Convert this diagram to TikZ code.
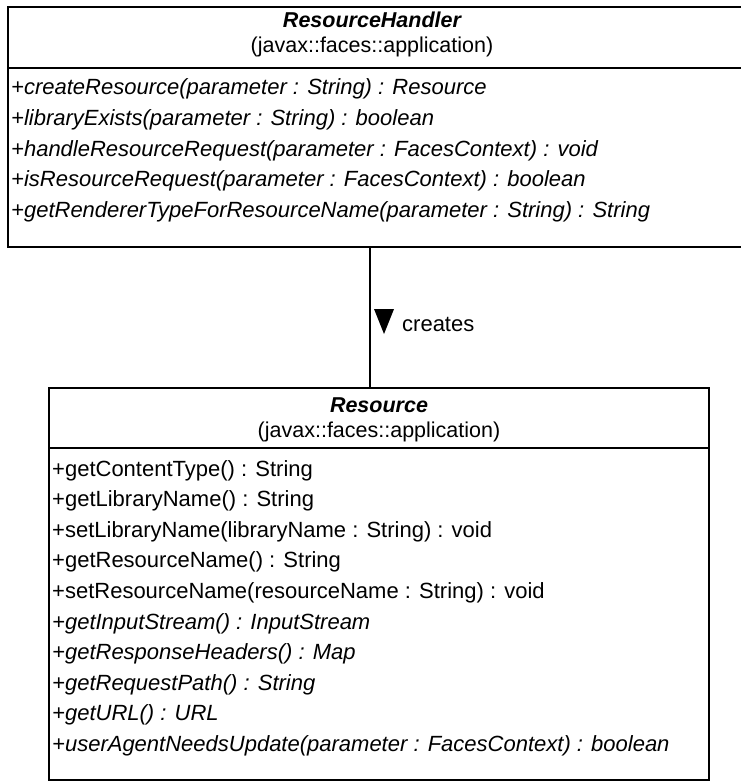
\documentclass[tikz,border=0pt]{standalone}
\usepackage{fontspec}
\setmainfont{Liberation Sans}
\begin{document}
\begin{tikzpicture}[x=1pt,y=-1pt,
  classbox/.style={draw, line width=1.5pt, inner sep=0pt, outer sep=0pt, fill=white},
  sepline/.style={line width=1.5pt},
  conn/.style={line width=1.5pt},
  titletxt/.style={inner sep=0pt, font=\fontsize{21.5}{21.5}\selectfont\bfseries\itshape},
  pkgtxt/.style={inner sep=0pt, font=\fontsize{21.5}{21.5}\selectfont},
  opit/.style={anchor=west, inner sep=0pt, font=\fontsize{22}{22}\selectfont\itshape},
  opup/.style={anchor=west, inner sep=0pt, font=\fontsize{22}{22}\selectfont},
  lbl/.style={anchor=west, inner sep=0pt, font=\fontsize{22}{22}\selectfont}]
\useasboundingbox (0,0) rectangle (740,782);
\fill[white] (0,0) rectangle (740,782);

% ResourceHandler class
\node[classbox, minimum width=734pt, minimum height=240pt] (rh) at (375,127) {};
\coordinate (rhsep) at (0,68);
\draw[sepline] (rh.west |- rhsep) -- (rh.east |- rhsep);
\node[titletxt] (rhname) at (372,20) {ResourceHandler};
\node[pkgtxt] (rhpkg) at (372,47) {(javax::faces::application)};
\node[opit] (rh1) at (11,89) {+createResource(parameter : String) : Resource};
\node[opit] (rh2) at (11,119.7) {+libraryExists(parameter : String) : boolean};
\node[opit] (rh3) at (11,150.4) {+handleResourceRequest(parameter : FacesContext) : void};
\node[opit] (rh4) at (11,181.1) {+isResourceRequest(parameter : FacesContext) : boolean};
\node[opit] (rh5) at (11,211.8) {+getRendererTypeForResourceName(parameter : String) : String};

% Resource class
\node[classbox, minimum width=660pt, minimum height=392pt] (res) at (379,584) {};
\coordinate (ressep) at (0,448);
\draw[sepline] (res.west |- ressep) -- (res.east |- ressep);
\node[titletxt] (resname) at (379,405) {Resource};
\node[pkgtxt] (respkg) at (379,432) {(javax::faces::application)};
\node[opup] (r1) at (52,470.5) {+getContentType() : String};
\node[opup] (r2) at (52,501.1) {+getLibraryName() : String};
\node[opup] (r3) at (52,531.7) {+setLibraryName(libraryName : String) : void};
\node[opup] (r4) at (52,562.3) {+getResourceName() : String};
\node[opup] (r5) at (52,592.9) {+setResourceName(resourceName : String) : void};
\node[opit] (r6) at (52,623.5) {+getInputStream() : InputStream};
\node[opit] (r7) at (52,654.1) {+getResponseHeaders() : Map};
\node[opit] (r8) at (52,684.7) {+getRequestPath() : String};
\node[opit] (r9) at (52,715.3) {+getURL() : URL};
\node[opit] (r10) at (52,745.9) {+userAgentNeedsUpdate(parameter : FacesContext) : boolean};

% association "creates"
\coordinate (cx) at (370,0);
\draw[conn] (rh.south -| cx) -- (res.north -| cx);
\fill (374,309) -- (394,309) -- (384,334) -- cycle;
\node[lbl] (creates) at (402,324) {creates};
\end{tikzpicture}
\end{document}
